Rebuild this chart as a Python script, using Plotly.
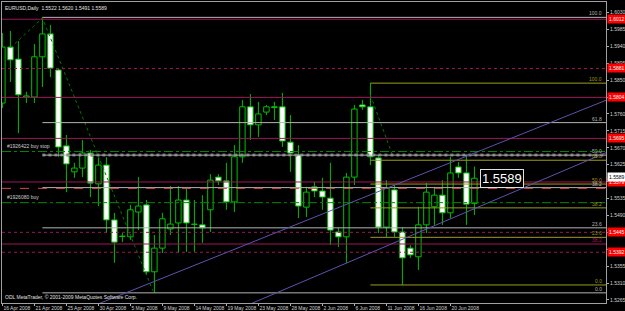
import plotly.graph_objects as go

# ---------------- data ----------------
date_labels = ["16 Apr 2008", "21 Apr 2008", "25 Apr 2008", "30 Apr 2008", "5 May 2008",
               "9 May 2008", "14 May 2008", "19 May 2008", "23 May 2008", "28 May 2008",
               "2 Jun 2008", "6 Jun 2008", "11 Jun 2008", "16 Jun 2008", "20 Jun 2008"]
date_bars = [0, 4, 8, 12, 16, 20, 24, 28, 32, 36, 40, 44, 48, 52, 56]

price_labels = ["1.6030", "1.5985", "1.5940", "1.5895", "1.5850", "1.5805", "1.5760", "1.5715",
                "1.5670", "1.5625", "1.5580", "1.5535", "1.5490", "1.5445", "1.5400", "1.5355",
                "1.5310", "1.5265"]

opens = [1.5789, 1.5938, 1.5906, 1.5805, 1.5805, 1.5912, 1.5973, 1.5877, 1.5675, 1.5606,
         1.5616, 1.5656, 1.5574, 1.5624, 1.5478, 1.5435, 1.5433, 1.5499, 1.5518, 1.5340,
         1.5403, 1.5454, 1.5470, 1.5531, 1.5467, 1.5465, 1.5505, 1.5592, 1.5582, 1.5526,
         1.5646, 1.5779, 1.5731, 1.5765, 1.5779, 1.5779, 1.5685, 1.5651, 1.5512, 1.5566,
         1.5555, 1.5536, 1.5446, 1.5433, 1.5592, 1.5784, 1.5779, 1.5643, 1.5459, 1.5558,
         1.5446, 1.5403, 1.5380, 1.5465, 1.5513, 1.5544, 1.5497, 1.5619, 1.5603, 1.5522]
highs = [1.5975, 1.5981, 1.5954, 1.5819, 1.5946, 1.6017, 1.5997, 1.5882, 1.5704, 1.5630,
         1.5691, 1.5664, 1.5643, 1.5645, 1.5497, 1.5443, 1.5518, 1.5592, 1.5531, 1.5438,
         1.5497, 1.5568, 1.5568, 1.5563, 1.5531, 1.5544, 1.5600, 1.5600, 1.5630, 1.5677,
         1.5797, 1.5813, 1.5792, 1.5784, 1.5792, 1.5816, 1.5757, 1.5677, 1.5566, 1.5579,
         1.5590, 1.5630, 1.5457, 1.5603, 1.5784, 1.5797, 1.5842, 1.5651, 1.5584, 1.5571,
         1.5459, 1.5411, 1.5513, 1.5576, 1.5566, 1.5584, 1.5646, 1.5632, 1.5651, 1.5620]
lows = [1.5776, 1.5845, 1.5709, 1.5789, 1.5789, 1.5832, 1.5858, 1.5646, 1.5552, 1.5590,
        1.5592, 1.5539, 1.5515, 1.5443, 1.5364, 1.5419, 1.5425, 1.5451, 1.5332, 1.5284,
        1.5390, 1.5438, 1.5390, 1.5393, 1.5393, 1.5417, 1.5446, 1.5571, 1.5505, 1.5499,
        1.5630, 1.5691, 1.5699, 1.5757, 1.5744, 1.5672, 1.5606, 1.5483, 1.5486, 1.5539,
        1.5505, 1.5411, 1.5406, 1.5364, 1.5571, 1.5771, 1.5624, 1.5443, 1.5433, 1.5433,
        1.5305, 1.5377, 1.5345, 1.5443, 1.5465, 1.5465, 1.5483, 1.5590, 1.5465, 1.5491]
closes = [1.5938, 1.5904, 1.5811, 1.5808, 1.5912, 1.5973, 1.5882, 1.5672, 1.5627, 1.5616,
          1.5656, 1.5576, 1.5624, 1.5478, 1.5419, 1.5434, 1.5505, 1.5515, 1.5340, 1.5403,
          1.5481, 1.5467, 1.5531, 1.5470, 1.5466, 1.5457, 1.5584, 1.5582, 1.5526, 1.5646,
          1.5779, 1.5731, 1.5760, 1.5779, 1.5777, 1.5688, 1.5656, 1.5515, 1.5552, 1.5555,
          1.5539, 1.5451, 1.5433, 1.5592, 1.5773, 1.5779, 1.5646, 1.5459, 1.5563, 1.5446,
          1.5377, 1.5385, 1.5465, 1.5552, 1.5544, 1.5497, 1.5603, 1.5603, 1.5520, 1.5589]

# stop / take-profit lines (magenta) and their styles; which have a price box
sl_levels = [1.6012, 1.5881, 1.5804, 1.5695, 1.5579, 1.5445, 1.5414, 1.5392]
sl_dash = ["solid", "dot", "solid", "solid", "solid", "dot", "solid", "dot"]
sl_boxed = [True, True, True, True, True, True, False, True]

order_levels = [1.5660, 1.5524]
order_names = ["#1926422 buy stop", "#1926080 buy"]
red_dash_level = 1.5562

fib_ratios = [1.0, 0.618, 0.5, 0.382, 0.236, 0.0]
fib_texts = ["100.0", "61.8", "50.0", "38.2", "23.6", "0.0"]
fib_gray_bars = [5, 19]    # bar of high, bar of low
fib_olive_bars = [46, 50]

channel_upper = [(20, 1.5323), (59, 1.5656)]
channel_lower = [(40, 1.5336), (59, 1.5508)]

history1 = [(1, 1.5936), (5, 1.6015), (18.8, 1.5290)]
history2 = [(46, 1.5810), (48.75, 1.5651)]

symbol = "EURUSD,Daily"
bid_text = "1.5589"
copyright_text = "ODL MetaTrader, © 2001-2009 MetaQuotes Software Corp."

# ---------------- styles ----------------
GREEN = "#00c000"
GRAY = "#b4b4b4"
OLIVE = "#9c9c1c"
MAGENTA = "#a0145a"
FONT = "Liberation Sans, Arial"
XR = [-0.05, 75.45]
YR = [1.52570, 1.60579]

fig = go.Figure()

# wicks (split so they don't cross the body)
wx, wy = [], []
for i, (o, h, l, c) in enumerate(zip(opens, highs, lows, closes)):
    top, bot = max(o, c), min(o, c)
    wx += [i, i, None, i, i, None]
    wy += [h, top, None, bot, l, None]
fig.add_trace(go.Scatter(x=wx, y=wy, mode="lines", line=dict(color=GREEN, width=1),
                         hoverinfo="skip"))

# bodies
xs = list(range(len(opens)))
base = [min(o, c) for o, c in zip(opens, closes)]
hgt = [max(abs(c - o), 0.00002) for o, c in zip(opens, closes)]
fill = ["#000000" if c >= o else "#ffffff" for o, c in zip(opens, closes)]
fig.add_trace(go.Bar(x=xs, y=hgt, base=base, width=0.68,
                     marker=dict(color=fill, line=dict(color=GREEN, width=1)),
                     hoverinfo="skip"))

shapes = []
annotations = []

def hline(y, color, dash="solid", x0=None, width=1):
    shapes.append(dict(type="line", xref="x" if x0 is not None else "paper", yref="y",
                       x0=x0 if x0 is not None else 0, x1=XR[1] if x0 is not None else 1,
                       y0=y, y1=y, line=dict(color=color, width=width, dash=dash), layer="above"))

# Fibonacci retracements
def fib(bars, color, shift):
    hi = highs[bars[0]]
    lo = lows[bars[1]]
    for r, t in zip(fib_ratios, fib_texts):
        lv = lo + r * (hi - lo)
        if color == GRAY and t == "50.0":
            hline(lv, "#6c6470", "dot", x0=bars[0], width=3)
        hline(lv, color, "solid", x0=bars[0])
        annotations.append(dict(xref="paper", yref="y", x=1, y=lv, xanchor="right", yanchor="bottom",
                                xshift=shift, yshift=-1, text=t, showarrow=False,
                                font=dict(size=5, color=color, family=FONT)))

fib(fib_gray_bars, GRAY, -2)
fib(fib_olive_bars, OLIVE, -2)

# order lines
for lv, nm in zip(order_levels, order_names):
    hline(lv, "#008a00", "dashdot")
    annotations.append(dict(xref="paper", yref="y", x=0, y=lv, xanchor="left", yanchor="bottom",
                            xshift=3, yshift=1, text=nm, showarrow=False,
                            font=dict(size=5, color="#d0d0d0", family=FONT)))

hline(red_dash_level, "#d84848", "dash")

# magenta SL/TP lines
boxed_prices = []
for lv, d, bx in zip(sl_levels, sl_dash, sl_boxed):
    hline(lv, MAGENTA, d)
    if bx:
        boxed_prices.append(lv)
        annotations.append(dict(xref="paper", yref="y", x=1, y=lv, xanchor="left", yanchor="middle",
                                xshift=1, text="%.4f" % lv, showarrow=False, bgcolor="#ff0000",
                                borderpad=1, font=dict(size=5, color="#ffffff", family=FONT)))
annotations.append(dict(xref="paper", yref="y", x=1, y=sl_levels[6], xanchor="right", yanchor="bottom",
                        xshift=-2, yshift=-1, text="38.2", showarrow=False,
                        font=dict(size=5, color=MAGENTA, family=FONT)))

# channel lines
def extend(p, q):
    (xa, ya), (xb, yb) = p, q
    s = (yb - ya) / (xb - xa)
    return (-10, ya + s * (-10 - xa)), (90, ya + s * (90 - xa))

for ch in (channel_upper, channel_lower):
    (a0, b0), (a1, b1) = extend(*ch)
    shapes.append(dict(type="line", xref="x", yref="y", x0=a0, y0=b0, x1=a1, y1=b1,
                       line=dict(color="#5e52b0", width=1), layer="above"))

# history (trade) lines
for hist in (history1, history2):
    fig.add_trace(go.Scatter(x=[p[0] for p in hist], y=[p[1] for p in hist], mode="lines",
                             line=dict(color="#007a00", width=1, dash="dot"), hoverinfo="skip"))

# bid box on axis
last = len(closes) - 1
boxed_prices.append(closes[last])
annotations.append(dict(xref="paper", yref="y", x=1, y=closes[last], xanchor="left", yanchor="middle",
                        xshift=1, yshift=1, text=bid_text, showarrow=False, bgcolor="#ffffff",
                        borderpad=1, font=dict(size=5, color="#000000", family=FONT)))
# big price label
annotations.append(dict(xref="x", yref="y", x=last + 0.75, y=closes[last], xanchor="left",
                        yanchor="middle", text=bid_text, showarrow=False, bgcolor="#000000",
                        bordercolor="#e0e0e0", borderwidth=1, borderpad=1,
                        font=dict(size=13, color="#ffffff", family=FONT)))
# header
annotations.append(dict(xref="paper", yref="paper", x=0, y=1, xanchor="left", yanchor="top",
                        xshift=1, yshift=-1,
                        text="%s  %.4f %.4f %.4f %.4f" % (symbol, opens[last], highs[last], lows[last], closes[last]),
                        showarrow=False, font=dict(size=5, color="#e0e0e0", family=FONT)))
# copyright
annotations.append(dict(xref="paper", yref="paper", x=0, y=0, xanchor="left", yanchor="bottom",
                        xshift=1, yshift=1, text=copyright_text, showarrow=False,
                        font=dict(size=5, color="#e0e0e0", family=FONT)))

# axis price labels hidden under the price boxes (as MetaTrader does)
tick_vals = [float(s) for s in price_labels]
tick_text = ["" if any(abs(v - b) < 0.0012 for b in boxed_prices) else s
             for v, s in zip(tick_vals, price_labels)]

fig.update_layout(
    width=625, height=311, margin=dict(l=2, r=19, t=2, b=8, autoexpand=False),
    paper_bgcolor="#000000", plot_bgcolor="#000000", showlegend=False,
    shapes=shapes, annotations=annotations,
    xaxis=dict(range=XR, tickvals=date_bars, ticktext=date_labels, ticks="outside", ticklen=2,
               tickangle=0, tickcolor="#b0b0b0", ticklabelposition="outside right",
               tickfont=dict(size=5, color="#d0d0d0", family=FONT), automargin=False,
               showgrid=False, zeroline=False, showline=True, mirror=True,
               linecolor="#a0a0a0", linewidth=1, fixedrange=True),
    yaxis=dict(range=YR, side="right", tickvals=tick_vals, ticktext=tick_text,
               ticks="outside", ticklen=2, tickcolor="#b0b0b0", automargin=False,
               tickfont=dict(size=5, color="#d0d0d0", family=FONT),
               showgrid=False, zeroline=False, showline=True, mirror=True,
               linecolor="#a0a0a0", linewidth=1, fixedrange=True),
)

fig.write_html("out.html", config={"displayModeBar": False})
